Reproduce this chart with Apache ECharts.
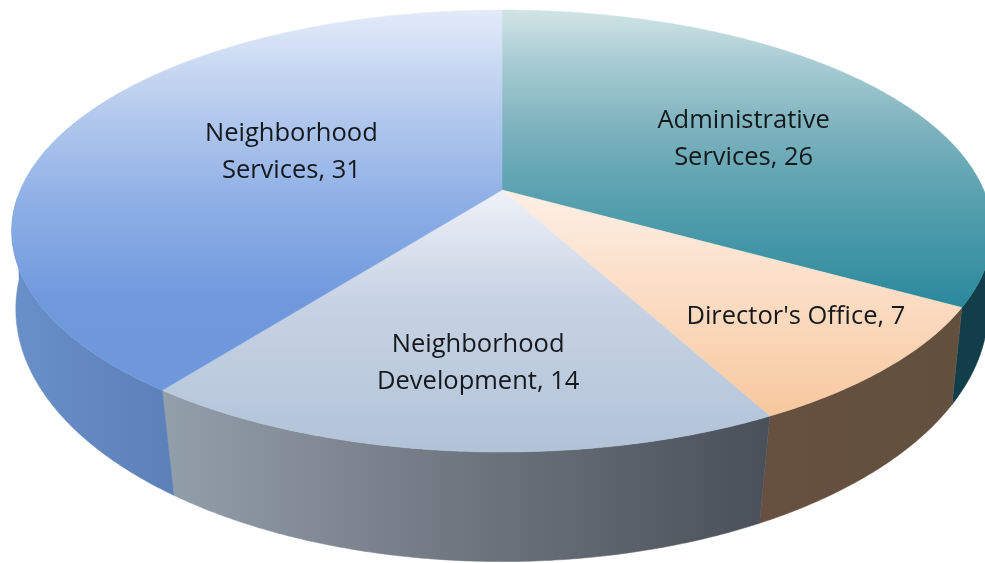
<!DOCTYPE html>
<html>
<head>
<meta charset="utf-8">
<style>html,body{margin:0;padding:0;background:#fff}#c{width:985px;height:563px}</style>
<script src="https://cdn.jsdelivr.net/npm/echarts@6/dist/echarts.min.js"></script>
</head>
<body>
<div id="c"></div>
<script>
// Data
const categories = ['Administrative\nServices', "Director's Office", 'Neighborhood\nDevelopment', 'Neighborhood\nServices'];
const values = [26, 7, 14, 31];

// Style: one entry per slice, same order as categories
const topStops = [
  [[0.018,'#d0e4e5'],[0.11,'#a8ccd3'],[0.23,'#7cb2bd'],[0.355,'#57a0af'],[0.54,'#2b8a9c']],
  [[0.35,'#fdeee3'],[0.53,'#fbdcc3'],[0.73,'#f7c9a0']],
  [[0.34,'#eef1f8'],[0.53,'#c8d3e4'],[0.80,'#b2c3d8']],
  [[0.018,'#e3ebf9'],[0.18,'#b9cdee'],[0.355,'#8fb0e6'],[0.53,'#7099dd'],[0.68,'#6f98dc']]
];
const wallStops = [
  [[0,'#15464f'],[1,'#113e48']],
  [[0.77,'#67503f'],[0.98,'#62503f']],
  [[0.165,'#949fac'],[0.5,'#6b727c'],[0.78,'#4a505a']],
  [[0.01,'#6a90c9'],[0.175,'#5c80b8']]
];
// Where each label sits on the disc: fraction of radius, degrees away from the slice's mid-angle
const labelRadius = [0.584, 0.765, 0.7025, 0.49];
const labelTurn = [4.1, -2.1, -1.1, 4.1];
const labelFont = {fontFamily: 'Open Sans', fontSize: 25.5, lineHeight: 37, fill: '#15181c'};

// Perspective view of the disc
const apexX = 502;
const topFace = {y0: 190, a: 481.7, b: 213.4, k: 0.1855};
const baseFace = {y0: 271, a: 480.7, b: 247, k: 0.15};
const frontFrom = 95, frontTo = 268; // part of the rim that faces the viewer
function project(f, deg, r) {
  const t = deg * Math.PI / 180, X = r * Math.sin(t), Y = r * Math.cos(t), w = 1 + f.k * Y;
  return [apexX + f.a * X / w, f.y0 - f.b * Y / w];
}
function arc(f, from, to) {
  const pts = [], n = Math.max(2, Math.ceil(Math.abs(to - from) * 2));
  for (let i = 0; i <= n; i++) pts.push(project(f, from + (to - from) * i / n, 1));
  return pts;
}
const total = values.reduce((s, v) => s + v, 0);
function sweep(idx) {
  let s = 0;
  for (let i = 0; i < idx; i++) s += values[i];
  return [s / total * 360, (s + values[idx]) / total * 360];
}

function renderWall(params, api) {
  const i = api.value(1), [s0, s1] = sweep(i);
  const a0 = Math.max(s0, frontFrom), a1 = Math.min(s1, frontTo);
  const g = new echarts.graphic.LinearGradient(0, 0, 985, 0,
    wallStops[i].map(s => ({offset: s[0], color: s[1]})), true);
  return {type: 'polygon',
    shape: {points: arc(topFace, a0, a1).concat(arc(baseFace, a1, a0))},
    style: {fill: g, stroke: g, lineWidth: 0.5}};
}
function renderTop(params, api) {
  const i = api.value(1), [a0, a1] = sweep(i);
  const g = new echarts.graphic.LinearGradient(0, 0, 0, 563,
    topStops[i].map(s => ({offset: s[0], color: s[1]})), true);
  const lp = project(topFace, (a0 + a1) / 2 + labelTurn[i], labelRadius[i]);
  return {type: 'group', children: [
    {type: 'polygon',
     shape: {points: [project(topFace, 0, 0)].concat(arc(topFace, a0, a1))},
     style: {fill: g, stroke: g, lineWidth: 0.5}},
    {type: 'text', z2: 10,
     style: Object.assign({text: categories[i] + ', ' + api.value(0), x: lp[0], y: lp[1] + 1, align: 'center', verticalAlign: 'middle'}, labelFont)}
  ]};
}

const rows = values.map((v, i) => [v, i]);
const chart = echarts.init(document.getElementById('c'), null, {renderer: 'canvas'});
chart.setOption({
  backgroundColor: '#ffffff',
  animation: false,
  series: [
    {type: 'custom', coordinateSystem: 'none', data: rows, renderItem: renderWall, silent: true, z: 1},
    {type: 'custom', coordinateSystem: 'none', data: rows, renderItem: renderTop, silent: true, z: 2}
  ]
});
</script>
</body>
</html>
